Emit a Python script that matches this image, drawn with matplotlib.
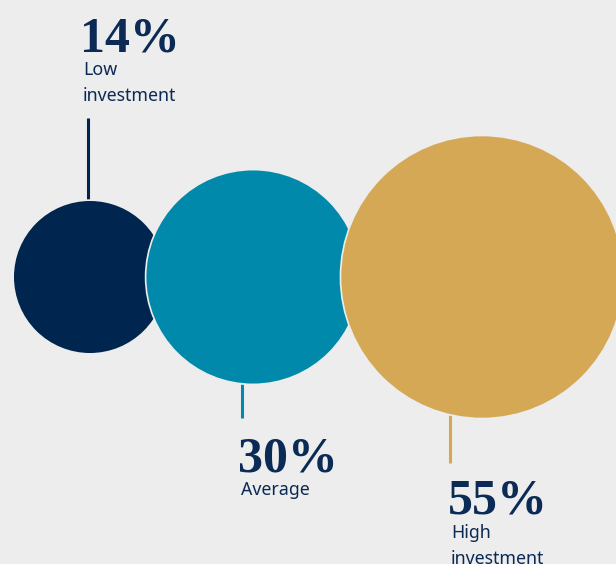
import numpy as np
import matplotlib
matplotlib.use("Agg")
import matplotlib.pyplot as plt
from matplotlib.patches import Circle

# ---- data ----
categories = ["Low\ninvestment", "Average", "High\ninvestment"]
values = [14, 30, 55]
value_labels = ["14%", "30%", "55%"]
colors = ["#00264f", "#0089aa", "#d4a855"]

# ---- layout ----
W, H = 616, 564
BG = "#ededed"
TXT = "#0b2a55"
cy = 277
centers_x = [90, 253, 482]
line_x = [88, 242, 450]
line_end_y = [118, 418, 463]      # far end of the leader line
label_above = [True, False, False]
num_baseline = [51, 471, 514]
num_x = [80, 238, 448]

def radius(v):
    return 11 + 17.6 * np.sqrt(v)

fig = plt.figure(figsize=(W / 100, H / 100), dpi=100, facecolor=BG)
ax = fig.add_axes([0, 0, 1, 1])
ax.set_facecolor(BG)
ax.set_xlim(0, W)
ax.set_ylim(H, 0)
ax.set_aspect("equal")
ax.axis("off")

for i, v in enumerate(values):
    r = radius(v)
    ax.add_patch(Circle((centers_x[i], cy), r, facecolor=colors[i],
                        edgecolor=BG, linewidth=1.2, zorder=2 + i))
    # leader line from circle edge
    dx = line_x[i] - centers_x[i]
    dy = np.sqrt(r ** 2 - dx ** 2)
    y_edge = cy - dy if label_above[i] else cy + dy
    ax.plot([line_x[i], line_x[i]], [y_edge, line_end_y[i]], color=colors[i],
            lw=2.2, solid_capstyle="butt", zorder=1)
    # value text
    ax.text(num_x[i], num_baseline[i], value_labels[i], family="Liberation Serif",
            fontweight="bold", fontsize=36, color=TXT, ha="left", va="baseline",
            zorder=10)
    lines = categories[i].split("\n")
    for j, ln in enumerate(lines):
        ax.text(num_x[i] + 3, num_baseline[i] + 24 + 26 * j, ln, family="Noto Sans",
                fontsize=12.8, color=TXT, ha="left", va="baseline", zorder=10)

fig.savefig("out.png", dpi=100, facecolor=BG)
